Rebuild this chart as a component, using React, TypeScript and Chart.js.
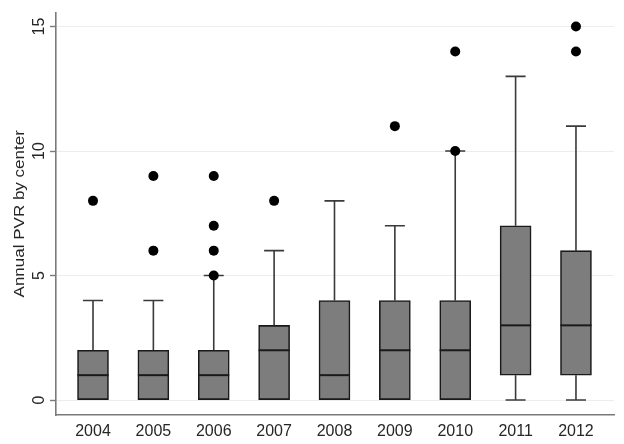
import React, { useEffect, useRef } from "react";
import { Chart, registerables } from "chart.js";

Chart.register(...registerables);

const years = [2004, 2005, 2006, 2007, 2008, 2009, 2010, 2011, 2012];
const whiskerLow = [0, 0, 0, 0, 0, 0, 0, 0, 0];
const q1 = [0, 0, 0, 0, 0, 0, 0, 1, 1];
const median = [1, 1, 1, 2, 1, 2, 2, 3, 3];
const q3 = [2, 2, 2, 3, 4, 4, 4, 7, 6];
const whiskerHigh = [4, 4, 5, 6, 8, 7, 10, 13, 11];
const outlierYears = [2004, 2005, 2005, 2006, 2006, 2006, 2006, 2007, 2009, 2010, 2010, 2012, 2012];
const outlierValues = [8, 6, 9, 5, 6, 7, 9, 8, 11, 10, 14, 14, 15];
const yTicks = [0, 5, 10, 15];
const yTitle = "Annual PVR by center";

const FONT = '"Liberation Sans", Arial, Helvetica, sans-serif';
const TEXT = "#262626";

const boxPlugin = {
  id: "boxParts",
  beforeDatasetsDraw(chart: any) {
    const { ctx, scales } = chart;
    const x = scales.x;
    const y = scales.y;
    ctx.save();
    ctx.strokeStyle = "#3a3a3a";
    ctx.lineWidth = 1.6;
    const capHalf = 10;
    years.forEach((yr, i) => {
      const px = x.getPixelForValue(yr);
      if (whiskerHigh[i] > q3[i]) {
        const a = y.getPixelForValue(q3[i]);
        const b = y.getPixelForValue(whiskerHigh[i]);
        ctx.beginPath();
        ctx.moveTo(px, a);
        ctx.lineTo(px, b);
        ctx.moveTo(px - capHalf, b);
        ctx.lineTo(px + capHalf, b);
        ctx.stroke();
      }
      if (whiskerLow[i] < q1[i]) {
        const a = y.getPixelForValue(q1[i]);
        const b = y.getPixelForValue(whiskerLow[i]);
        ctx.beginPath();
        ctx.moveTo(px, a);
        ctx.lineTo(px, b);
        ctx.moveTo(px - capHalf, b);
        ctx.lineTo(px + capHalf, b);
        ctx.stroke();
      }
    });
    ctx.restore();
  },
  afterDatasetsDraw(chart: any) {
    const { ctx, scales } = chart;
    const x = scales.x;
    const y = scales.y;
    ctx.save();
    ctx.strokeStyle = "#1a1a1a";
    ctx.lineWidth = 2;
    years.forEach((yr, i) => {
      const px = x.getPixelForValue(yr);
      const py = y.getPixelForValue(median[i]);
      ctx.beginPath();
      ctx.moveTo(px - 15.5, py);
      ctx.lineTo(px + 15.5, py);
      ctx.stroke();
    });
    ctx.restore();
  },
  afterDraw(chart: any) {
    const { ctx, scales } = chart;
    const x = scales.x;
    const y = scales.y;
    ctx.save();
    ctx.fillStyle = TEXT;
    ctx.font = "16px " + FONT;
    ctx.textAlign = "center";
    ctx.textBaseline = "alphabetic";
    yTicks.forEach((v) => {
      const py = y.getPixelForValue(v);
      ctx.save();
      ctx.translate(43.5, py);
      ctx.rotate(-Math.PI / 2);
      ctx.fillText(String(v), 0, 0);
      ctx.restore();
    });
    years.forEach((v) => {
      const px = x.getPixelForValue(v);
      ctx.fillText(String(v), px, 436);
    });
    ctx.font = "17px " + FONT;
    const cy = (chart.chartArea.top + chart.chartArea.bottom) / 2;
    ctx.translate(23.5, cy);
    ctx.rotate(-Math.PI / 2);
    ctx.scale(1, 0.85);
    ctx.fillText(yTitle, 0, 0);
    ctx.restore();
  },
};

export default function App() {
  const ref = useRef<HTMLCanvasElement | null>(null);
  useEffect(() => {
    document.body.style.margin = "0";
    const canvas = ref.current;
    if (!canvas) return;
    const chart = new Chart(canvas, {
      type: "bar",
      data: {
        datasets: [
          {
            type: "bar",
            label: "box",
            data: years.map((yr, i) => ({ x: yr, y: [q1[i], q3[i]] })) as any,
            backgroundColor: "#7d7d7d",
            borderColor: "#1a1a1a",
            borderWidth: 1.6,
            borderSkipped: false,
            barThickness: 31,
            order: 1,
          } as any,
          {
            type: "scatter",
            label: "outliers",
            data: outlierYears.map((yr, i) => ({ x: yr, y: outlierValues[i] })),
            backgroundColor: "#000000",
            borderWidth: 0,
            pointRadius: 5,
            order: 0,
          } as any,
        ],
      },
      options: {
        responsive: false,
        animation: false,
        devicePixelRatio: 1,
        layout: { padding: { left: 0, right: 10, top: 12, bottom: 0 } },
        plugins: { legend: { display: false }, tooltip: { enabled: false } },
        scales: {
          x: {
            type: "linear",
            offset: false,
            min: 2003.387,
            max: 2012.63,
            afterBuildTicks: (s: any) => {
              s.ticks = years.map((v) => ({ value: v }));
            },
            afterFit: (s: any) => {
              s.height = 29;
            },
            grid: { display: false, drawTicks: false, offset: false },
            border: { display: true, color: "#7a7a7a", width: 1.6 },
            ticks: {
              callback: (v: any) => String(v),
              color: "rgba(0,0,0,0)",
              font: { family: FONT, size: 16 },
              padding: 6,
              maxRotation: 0,
              autoSkip: false,
            },
          },
          y: {
            type: "linear",
            min: -0.6,
            max: 15.56,
            afterBuildTicks: (s: any) => {
              s.ticks = yTicks.map((v) => ({ value: v }));
            },
            afterFit: (s: any) => {
              s.width = 56;
            },
            grid: { color: "#ededed", lineWidth: 1, drawTicks: true, tickLength: 6, tickColor: "#7a7a7a", tickWidth: 1.4 },
            border: { display: true, color: "#7a7a7a", width: 1.6 },
            ticks: { color: "rgba(0,0,0,0)", font: { family: FONT, size: 16 } },
          },
        },
      },
      plugins: [boxPlugin],
    } as any);
    return () => chart.destroy();
  }, []);
  return (
    <div style={{ width: 624, height: 444, background: "#ffffff" }}>
      <canvas ref={ref} width={624} height={444} style={{ display: "block" }} />
    </div>
  );
}
